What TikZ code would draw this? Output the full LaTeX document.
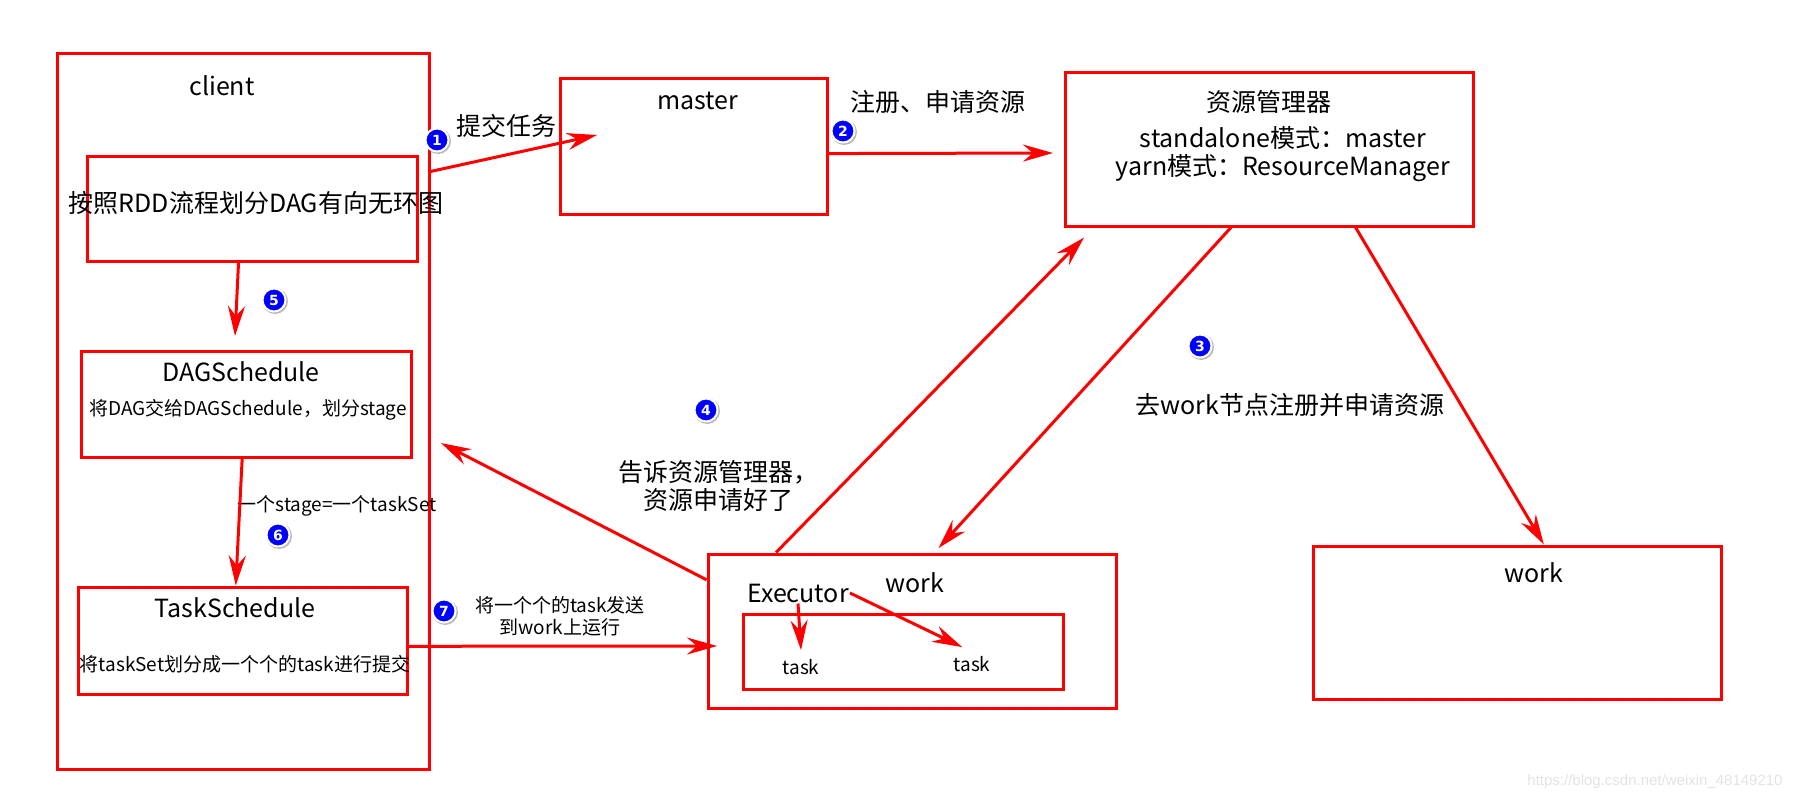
\documentclass[tikz,border=0pt]{standalone}
\usepackage{fontspec}
\setmainfont{Noto Sans CJK SC}
\newfontfamily\badgefont{DejaVu Sans}
\newfontfamily\markfont{Liberation Sans}
\usetikzlibrary{arrows.meta, positioning, shadows}
\definecolor{frame}{HTML}{FF0000}
\definecolor{badgeblue}{HTML}{0000FF}

\begin{document}
\begin{tikzpicture}[
    x=1pt, y=-1pt,
    box/.style={
      draw=frame, rectangle, line width=3pt, inner sep=0pt},
    big/.style={
      font=\fontsize{25}{28}\selectfont, align=center, inner sep=1pt},
    small/.style={
      font=\fontsize{19}{22}\selectfont, align=center, inner sep=1pt},
    badge/.style={
      circle, fill=badgeblue, draw=white, line width=2pt,
      minimum size=23pt, inner sep=0pt, text=white,
      font=\badgefont\bfseries\fontsize{14}{14}\selectfont,
      drop shadow={shadow xshift=1pt, shadow yshift=-1pt,
        shadow scale=1.12, opacity=0.55}},
    arr/.style={-{Stealth[length=30pt, width=17pt, inset=10pt]},
      draw=frame, line width=3pt},
  ]
  \useasboundingbox (0,0) rectangle (1800,800);

  % ── Client ──
  \node[box, minimum width=372pt, minimum height=715pt] (client) at (243,411.5) {};
  \node[big] (clientlbl) at (222,86) {client};

  \node[box, minimum width=330pt, minimum height=105pt] (rdd) at (252,208.5) {};
  \node[big] (rddtxt) at (256,203) {按照RDD流程划分DAG有向无环图};

  \node[box, minimum width=330pt, minimum height=106pt] (dag) at (246,404) {};
  \node[big] (dagtitle) at (241,372) {DAGSchedule};
  \node[small] (dagtxt) at (248,410) {将DAG交给DAGSchedule，划分stage};

  \node[box, minimum width=329pt, minimum height=107pt] (ts) at (242.5,640.5) {};
  \node[big] (tstitle) at (235,608) {TaskSchedule};
  \node[small] (tstxt) at (245,664) {将taskSet划分成一个个的task进行提交};

  % ── Master and resource manager ──
  \node[box, minimum width=267pt, minimum height=135pt] (master) at (693.5,146.5) {};
  \node[big] (masterlbl) at (698,101) {master};

  \node[box, minimum width=408pt, minimum height=153pt] (rm) at (1269,149.5) {};
  \node[big] (rmtitle) at (1269,102) {资源管理器};
  \node[big] (rmtxt) at (1283,154)
    {standalone模式：master\\yarn模式：ResourceManager};

  % ── Workers ──
  \node[box, minimum width=408pt, minimum height=154pt] (work) at (912,631) {};
  \node[big] (worklbl) at (915,583) {work};
  \node[big] (exec) at (798,593) {Executor};
  \node[box, minimum width=320pt, minimum height=75pt] (pool) at (903,651.5) {};
  \node[small, inner ysep=9pt] (task1) at (801,667) {task};
  \node[small, inner ysep=9pt] (task2) at (972,664) {task};

  \node[box, minimum width=408pt, minimum height=153pt] (work2) at (1517,622.5) {};
  \node[big] (work2lbl) at (1534,573) {work};

  % ── Step labels ──
  \node[big] (submit) at (506,126) {提交任务};
  \node[big] (register) at (938,102) {注册、申请资源};
  \node[big] (goreg) at (1290,405) {去work节点注册并申请资源};
  \node[big] (tell) at (718,486) {告诉资源管理器，\\资源申请好了};
  \node[small] (stageset) at (337,506) {一个stage=一个taskSet};
  \node[small] (send) at (560,616) {将一个个的task发送\\到work上运行};

  % ── Arrows ──
  \coordinate (masterin) at (597,135);
  \coordinate (rmin) at (1053,153);
  \coordinate (dagin) at (441,443);
  \coordinate (dagtop) at (235,336);
  \coordinate (workin) at (717,646);

  \draw[arr] (client.52) -- (masterin);
  \draw[arr] (master.-3) -- (rmin);
  \draw[arr, shorten >=6pt] (rm.244) -- (work.74);
  \draw[arr] (rm.318) -- (work2.71);
  \draw[arr, shorten >=14pt] (work.150) -- (rm.204);
  \draw[arr] (work.166) -- (dagin);
  \draw[arr] (rdd.256) -- (dagtop);
  \draw[arr] (dag.-94) -- (ts.97);
  \draw[arr] (ts.-2) -- (workin);
  \draw[arr] (exec.south) -- (task1.north);
  \draw[arr] (exec.east) -- (task2.120);

  % ── Step numbers ──
  \node[badge] (b1) at (437,140) {1};
  \node[badge] (b2) at (843,131) {2};
  \node[badge] (b3) at (1200,346) {3};
  \node[badge] (b4) at (706,410) {4};
  \node[badge] (b5) at (274,300) {5};
  \node[badge] (b6) at (278,535) {6};
  \node[badge] (b7) at (444,611) {7};

  \node[font=\markfont\fontsize{15}{15}\selectfont, text=gray!22]
    (mark) at (1655,782) {https://blog.csdn.net/weixin\_48149210};

\end{tikzpicture}
\end{document}
